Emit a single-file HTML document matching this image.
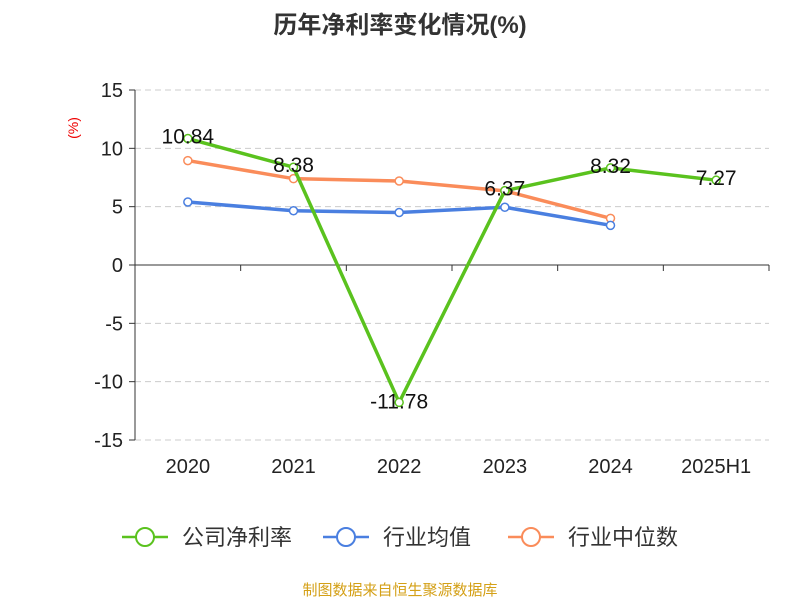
<!DOCTYPE html>
<html><head><meta charset="utf-8"><style>
body{margin:0;background:#fff;font-family:"Liberation Sans","Noto Sans CJK SC",sans-serif;}
</style></head><body>
<svg id="chart" width="800" height="600" xmlns="http://www.w3.org/2000/svg" font-family="Liberation Sans, Noto Sans CJK SC, sans-serif"></svg>
<script>
const categories=["2020","2021","2022","2023","2024","2025H1"];
const companyValues=[10.84,8.38,-11.78,6.37,8.32,7.27];
const industryAvg=[5.4,4.65,4.5,4.95,3.4];
const industryMedian=[8.95,7.4,7.2,6.35,4.0];
const yTicks=[15,10,5,0,-5,-10,-15];
const NS="http://www.w3.org/2000/svg";
const svg=document.getElementById('chart');
const x0=135,x1=769,yTop=90,yBot=440;
const band=(x1-x0)/categories.length;
const xs=i=>x0+band*(i+0.5);
const ys=v=>yTop+(15-v)/30*(yBot-yTop);
function mk(t,a,txt){const e=document.createElementNS(NS,t);for(const k in a)e.setAttribute(k,a[k]);if(txt!==undefined)e.textContent=txt;svg.appendChild(e);return e;}
let e;
e=mk('text',{x:400,y:33,'text-anchor':'middle','font-size':24,'font-weight':'bold',fill:'#333'},'历年净利率变化情况(%)');


e=mk('text',{x:78,y:128,'text-anchor':'middle','font-size':14,fill:'#e00',transform:'rotate(-90 78 128)'},'(%)');


yTicks.forEach(v=>{
 const y=ys(v);
 if(v!==0){e=mk('line',{x1:x0,x2:x1,y1:y,y2:y,stroke:'#ccc','stroke-dasharray':'6,4'});
 
 }
 e=mk('line',{x1:x0-6,x2:x0,y1:y,y2:y,stroke:'#333'});
 
 
 e=mk('text',{x:x0-12,y:y+7,'text-anchor':'end','font-size':20,fill:'#222'},String(v));
 
 
});
e=mk('line',{x1:x0,x2:x0,y1:yTop,y2:yBot,stroke:'#333'});


e=mk('line',{x1:x0,x2:x1,y1:ys(0),y2:ys(0),stroke:'#333'});


for(let i=0;i<=categories.length;i++){
 e=mk('line',{x1:x0+band*i,x2:x0+band*i,y1:ys(0),y2:ys(0)+6,stroke:'#333'});
 
 
}
categories.forEach((c,i)=>{
 e=mk('text',{x:xs(i),y:473,'text-anchor':'middle','font-size':20,fill:'#222'},c);
 
 
});
function series(vals,color,name){
 e=mk('polyline',{points:vals.map((v,i)=>xs(i)+','+ys(v)).join(' '),fill:'none',stroke:color,'stroke-width':3.5});
 
 
 vals.forEach((v,i)=>{
  e=mk('circle',{cx:xs(i),cy:ys(v),r:4,fill:'#fff',stroke:color,'stroke-width':1.5});
  
  
 });
}
series(industryMedian,'#fa8c5a','industry-median');
series(industryAvg,'#4a7fe0','industry-avg');
series(companyValues,'#5ac21e','company');
companyValues.forEach((v,i)=>{
 const y=v<0?ys(v)+6:ys(v)+5;
 e=mk('text',{x:xs(i),y:y,'text-anchor':'middle','font-size':21,fill:'#111'},v.toFixed(2));
 
 
});
const legend=[["公司净利率","#5ac21e",122],["行业均值","#4a7fe0",323],["行业中位数","#fa8c5a",508]];
legend.forEach(l=>{
 e=mk('line',{x1:l[2],x2:l[2]+46,y1:537,y2:537,stroke:l[1],'stroke-width':2.5});
 
 
 e=mk('circle',{cx:l[2]+23,cy:537,r:9,fill:'#fff',stroke:l[1],'stroke-width':2});
 
 
 e=mk('text',{x:l[2]+60,y:545,'font-size':22,fill:'#333'},l[0]);
 
 
});
e=mk('text',{x:400,y:595,'text-anchor':'middle','font-size':15,fill:'#d4a017'},'制图数据来自恒生聚源数据库');


</script>
</body></html>
